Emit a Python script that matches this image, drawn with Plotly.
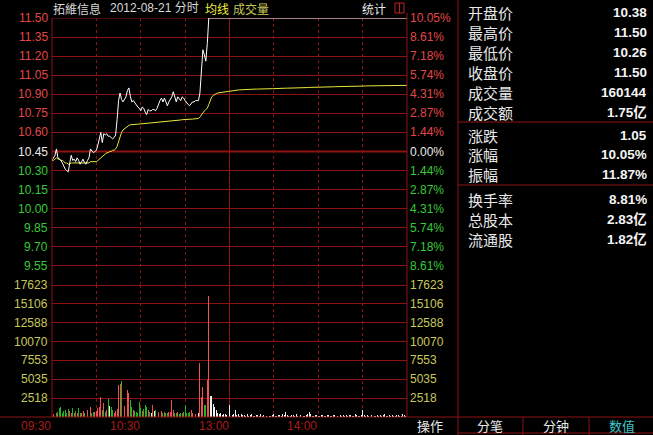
import plotly.graph_objects as go

# ---------------- data ----------------
stock_name = "拓維信息"
trade_date = "2012-08-21"
prev_close = 10.45

minutes = list(range(241))  # 0 = 09:30 ... 120 = 11:30/13:00 ... 240 = 15:00

price = [
    10.38, 10.40, 10.42, 10.47, 10.40, 10.39, 10.38, 10.36, 10.33, 10.31,
    10.30, 10.29, 10.36, 10.42, 10.38, 10.39, 10.37, 10.40, 10.38, 10.35,
    10.37, 10.39, 10.36, 10.35, 10.38, 10.40, 10.47, 10.45, 10.44, 10.45,
    10.46, 10.50, 10.56, 10.60, 10.52, 10.59, 10.58, 10.59, 10.57, 10.57,
    10.56, 10.55, 10.56, 10.58, 10.70, 10.85, 10.91, 10.86, 10.84, 10.86,
    10.88, 10.93, 10.95, 10.88, 10.84, 10.85, 10.83, 10.82, 10.80, 10.79,
    10.77, 10.80, 10.79, 10.76, 10.74, 10.78, 10.77, 10.77, 10.78, 10.78,
    10.77, 10.79, 10.83, 10.85, 10.87, 10.84, 10.87, 10.84, 10.81, 10.84,
    10.86, 10.88, 10.92, 10.88, 10.84, 10.88, 10.86, 10.85, 10.88, 10.87,
    10.85, 10.83, 10.82, 10.81, 10.83, 10.84, 10.84, 10.85, 10.85, 10.85,
    10.91, 11.09, 11.25, 11.21, 11.16, 11.30, 11.50, 11.50, 11.50, 11.50,
    11.50, 11.50, 11.50, 11.50, 11.50, 11.50, 11.50, 11.50, 11.50, 11.50,
    11.50, 11.50, 11.50, 11.50, 11.50, 11.50, 11.50, 11.50, 11.50, 11.50,
    11.50, 11.50, 11.50, 11.50, 11.50, 11.50, 11.50, 11.50, 11.50, 11.50,
    11.50, 11.50, 11.50, 11.50, 11.50, 11.50, 11.50, 11.50, 11.50, 11.50,
    11.50, 11.50, 11.50, 11.50, 11.50, 11.50, 11.50, 11.50, 11.50, 11.50,
    11.50, 11.50, 11.50, 11.50, 11.50, 11.50, 11.50, 11.50, 11.50, 11.50,
    11.50, 11.50, 11.50, 11.50, 11.50, 11.50, 11.50, 11.50, 11.50, 11.50,
    11.50, 11.50, 11.50, 11.50, 11.50, 11.50, 11.50, 11.50, 11.50, 11.50,
    11.50, 11.50, 11.50, 11.50, 11.50, 11.50, 11.50, 11.50, 11.50, 11.50,
    11.50, 11.50, 11.50, 11.50, 11.50, 11.50, 11.50, 11.50, 11.50, 11.50,
    11.50, 11.50, 11.50, 11.50, 11.50, 11.50, 11.50, 11.50, 11.50, 11.50,
    11.50, 11.50, 11.50, 11.50, 11.50, 11.50, 11.50, 11.50, 11.50, 11.50,
    11.50, 11.50, 11.50, 11.50, 11.50, 11.50, 11.50, 11.50, 11.50, 11.50,
    11.50,
]

avg_price = [
    10.38, 10.38, 10.39, 10.40, 10.39, 10.39, 10.38, 10.38, 10.37, 10.36,
    10.36, 10.35, 10.35, 10.36, 10.36, 10.36, 10.36, 10.36, 10.36, 10.36,
    10.36, 10.36, 10.36, 10.36, 10.36, 10.36, 10.37, 10.37, 10.37, 10.37,
    10.37, 10.38, 10.39, 10.40, 10.41, 10.42, 10.43, 10.44, 10.44, 10.45,
    10.45, 10.46, 10.46, 10.47, 10.49, 10.53, 10.57, 10.60, 10.62, 10.63,
    10.64, 10.65, 10.655, 10.66, 10.66, 10.66, 10.662, 10.664, 10.665, 10.666,
    10.667, 10.668, 10.668, 10.669, 10.670, 10.670, 10.671, 10.672, 10.673, 10.674,
    10.675, 10.676, 10.677, 10.678, 10.679, 10.680, 10.681, 10.682, 10.683, 10.685,
    10.686, 10.688, 10.690, 10.692, 10.694, 10.695, 10.697, 10.698, 10.700, 10.700,
    10.700, 10.701, 10.702, 10.703, 10.704, 10.705, 10.706, 10.707, 10.708, 10.710,
    10.72, 10.74, 10.76, 10.77, 10.78, 10.79, 10.82, 10.86, 10.88, 10.89,
    10.900, 10.905, 10.910, 10.912, 10.915, 10.918, 10.920, 10.922, 10.924, 10.925,
    10.927, 10.928, 10.930, 10.931, 10.932, 10.933, 10.934, 10.935, 10.936, 10.937,
    10.938, 10.938, 10.939, 10.939, 10.940, 10.940, 10.940, 10.941, 10.941, 10.941,
    10.942, 10.942, 10.942, 10.943, 10.943, 10.943, 10.943, 10.944, 10.944, 10.944,
    10.945, 10.945, 10.945, 10.946, 10.946, 10.947, 10.947, 10.947, 10.948, 10.948,
    10.948, 10.949, 10.949, 10.950, 10.950, 10.950, 10.951, 10.951, 10.951, 10.952,
    10.952, 10.952, 10.953, 10.953, 10.954, 10.954, 10.954, 10.955, 10.955, 10.955,
    10.956, 10.956, 10.956, 10.957, 10.957, 10.957, 10.958, 10.958, 10.958, 10.959,
    10.959, 10.959, 10.960, 10.960, 10.960, 10.961, 10.961, 10.961, 10.962, 10.962,
    10.962, 10.962, 10.963, 10.963, 10.963, 10.964, 10.964, 10.964, 10.964, 10.965,
    10.965, 10.965, 10.965, 10.966, 10.966, 10.966, 10.966, 10.967, 10.967, 10.967,
    10.967, 10.967, 10.968, 10.968, 10.968, 10.968, 10.968, 10.969, 10.969, 10.969,
    10.969, 10.969, 10.969, 10.970, 10.970, 10.970, 10.970, 10.970, 10.970, 10.970,
    10.970,
]

volume = [
    620, 400, 930, 600, 700, 1150, 1290, 500, 750, 930,
    600, 1070, 750, 600, 1150, 600, 800, 500, 1150, 600,
    480, 750, 500, 700, 1000, 600, 1300, 500, 700, 650,
    800, 1150, 1380, 2710, 900, 1830, 700, 1000, 2400, 1500,
    1380, 900, 600, 800, 1100, 4270, 4450, 4800, 2270, 1500,
    1000, 3600, 3160, 2270, 1380, 1000, 850, 700, 600, 2040,
    1200, 800, 1070, 1600, 1380, 900, 700, 600, 1600, 800,
    930, 1150, 700, 600, 800, 500, 700, 600, 500, 650,
    700, 2270, 900, 600, 500, 700, 450, 600, 500, 700,
    1600, 600, 500, 650, 870, 500, 400, 450, 300, 500,
    7250, 2700, 4050, 1600, 1600, 4950, 16150, 2800, 2800, 1800,
    1380, 870, 600, 400, 500, 300, 450, 350, 250, 400,
    1600, 500, 300, 400, 930, 300, 350, 200, 400, 250,
    300, 200, 400, 150, 250, 350, 200, 100, 300, 250,
    200, 350, 150, 250, 400, 200, 300, 150, 200, 250,
    350, 150, 200, 300, 250, 200, 400, 300, 670, 250,
    200, 150, 300, 250, 200, 350, 150, 200, 250, 300,
    200, 150, 250, 350, 670, 400, 200, 150, 250, 300,
    200, 150, 300, 250, 200, 150, 300, 250, 200, 150,
    250, 300, 200, 150, 350, 250, 200, 300, 150, 250,
    200, 300, 250, 150, 200, 350, 250, 200, 150, 300,
    930, 300, 200, 250, 150, 200, 300, 250, 150, 200,
    250, 200, 300, 150, 250, 350, 200, 150, 300, 200,
    250, 150, 200, 300, 250, 200, 150, 350, 250, 200,
    750,
]

price_ticks = [11.50, 11.35, 11.20, 11.05, 10.90, 10.75, 10.60,
               10.45, 10.30, 10.15, 10.00, 9.85, 9.70, 9.55]
price_tick_labels = ["11.50", "11.35", "11.20", "11.05", "10.90", "10.75", "10.60",
                     "10.45", "10.30", "10.15", "10.00", "9.85", "9.70", "9.55"]
pct_tick_labels = ["10.05%", "8.61%", "7.18%", "5.74%", "4.31%", "2.87%", "1.44%",
                   "0.00%", "1.44%", "2.87%", "4.31%", "5.74%", "7.18%", "8.61%"]
price_low, price_high = 9.40, 11.50

vol_ticks = [17623, 15106, 12588, 10070, 7553, 5035, 2518]
vol_tick_labels = ["17623", "15106", "12588", "10070", "7553", "5035", "2518"]
vol_max = 17623

time_ticks = [0, 60, 120, 180]
time_labels = ["09:30", "10:30", "13:00", "14:00"]
grid_time_ticks = [30, 60, 90, 150, 180, 210]
midday_tick = 120

info_labels = ["开盘价", "最高价", "最低价", "收盘价", "成交量", "成交额",
               "涨跌", "涨幅", "振幅", "换手率", "总股本", "流通股"]
info_values = ["10.38", "11.50", "10.26", "11.50", "160144", "1.75亿",
               "1.05", "10.05%", "11.87%", "8.81%", "2.83亿", "1.82亿"]
button_labels = ["操作", "分笔", "分钟", "数值"]

# ---------------- styling ----------------
W, H = 653, 435
L, R, T, B = 52, 407, 18, 417
SEP = 285  # px where price panel meets volume panel
BG = "#000000"
GRID = "#8e1212"
RED_TXT = "#e04848"
GREEN_TXT = "#38c838"
WHITE_TXT = "#e8e8e8"
VOL_TXT = "#c8c85a"
TIME_TXT = "#a81c1c"
NUM = "Liberation Sans, Arial, sans-serif"
CJK = "Noto Sans CJK SC, sans-serif"
MIX = "Liberation Sans, Noto Sans CJK SC, sans-serif"


def px_x(px):
    return (px - L) / (R - L)


def px_y(py):
    return 1 - (py - T) / (B - T)


vol_frac = (B - SEP) / (B - T)

# bar colours from price movement
bar_colors = []
for i, p in enumerate(price):
    ref = prev_close if i == 0 else price[i - 1]
    if p > ref:
        bar_colors.append("#f05050")
    elif p < ref:
        bar_colors.append("#22b422")
    else:
        bar_colors.append("#f0f0f0")

fig = go.Figure()
fig.add_trace(go.Bar(x=minutes, y=volume, marker=dict(color=bar_colors, line=dict(width=0)),
                     width=0.62, xaxis="x", yaxis="y", hoverinfo="skip"))
fig.add_trace(go.Scatter(x=minutes, y=avg_price, mode="lines",
                         line=dict(color="#e8e83c", width=1), xaxis="x", yaxis="y2", hoverinfo="skip"))
fig.add_trace(go.Scatter(x=minutes, y=price, mode="lines",
                         line=dict(color="#ffffff", width=1), xaxis="x", yaxis="y2", hoverinfo="skip"))

fig.update_layout(
    width=W, height=H,
    margin=dict(l=L, r=W - R, t=T, b=H - B, pad=0),
    paper_bgcolor=BG, plot_bgcolor=BG,
    showlegend=False, hovermode=False, bargap=0,
    xaxis=dict(range=[0, 240], anchor="y", tickvals=grid_time_ticks, showgrid=True,
               gridcolor=GRID, gridwidth=1, griddash="dot", showticklabels=False,
               zeroline=False, showline=False, ticks="", fixedrange=True),
    yaxis=dict(domain=[0, vol_frac], range=[0, vol_max], anchor="x", tickvals=vol_ticks,
               showgrid=True, gridcolor=GRID, gridwidth=1, showticklabels=False,
               zeroline=False, showline=False, ticks="", fixedrange=True),
    yaxis2=dict(domain=[vol_frac, 1], range=[price_low, price_high], anchor="x",
                tickvals=price_ticks, showgrid=True, gridcolor=GRID, gridwidth=1,
                showticklabels=False, zeroline=False, showline=False, ticks="", fixedrange=True),
)

shapes = []


def pline(x0, y0, x1, y1, width=1, color=GRID, layer="above", dash="solid"):
    shapes.append(dict(type="line", xref="paper", yref="paper",
                       x0=px_x(x0), y0=px_y(y0), x1=px_x(x1), y1=px_y(y1),
                       line=dict(color=color, width=width, dash=dash), layer=layer))


# axis-referenced frame lines
shapes.append(dict(type="line", xref="paper", yref="y2", x0=0, x1=1, y0=prev_close, y1=prev_close,
                   line=dict(color=GRID, width=2), layer="between"))
shapes.append(dict(type="line", xref="paper", yref="y2", x0=0, x1=1, y0=price_high, y1=price_high,
                   line=dict(color=GRID, width=1), layer="between"))
shapes.append(dict(type="line", xref="paper", yref="y", x0=0, x1=1, y0=vol_max, y1=vol_max,
                   line=dict(color=GRID, width=2), layer="between"))
shapes.append(dict(type="line", xref="x", yref="paper", x0=midday_tick, x1=midday_tick, y0=0, y1=1,
                   line=dict(color=GRID, width=1), layer="between"))
# borders
pline(L, T, L, B)
pline(R, 13, R, B)
pline(0, B, W, B)
# info panel
pline(458, 0, 458, H)
pline(458, 122, W, 122)
pline(458, 185, W, 185)
pline(523, B, 523, H)
pline(589, B, 589, H)
pline(458, 433, W, 433)
# small icon near 统计
shapes.append(dict(type="rect", xref="paper", yref="paper", x0=px_x(395), x1=px_x(404),
                   y0=px_y(13), y1=px_y(3), line=dict(color="#c02020", width=1), layer="above"))
pline(399.5, 3, 399.5, 13, color="#c02020")
fig.update_layout(shapes=shapes)


def ann(x, y, s, color, size, family, xanchor="left", xref="paper", yref="paper",
        weight="normal", height=None):
    fig.add_annotation(x=x, y=y, xref=xref, yref=yref, text=s, showarrow=False,
                       xanchor=xanchor, yanchor="middle", borderpad=0, height=height,
                       font=dict(color=color, size=size, family=family, weight=weight))


# price axis labels (left price, right percent)
for v, lab, pct in zip(price_ticks, price_tick_labels, pct_tick_labels):
    if v > prev_close:
        c = RED_TXT
    elif v < prev_close:
        c = GREEN_TXT
    else:
        c = WHITE_TXT
    ann(px_x(49), v, lab, c, 12, NUM, xanchor="right", yref="y2")
    ann(px_x(409), v, pct, c, 12, NUM, xanchor="left", yref="y2")

# volume axis labels
for v, lab in zip(vol_ticks, vol_tick_labels):
    ann(px_x(49), v, lab, VOL_TXT, 12, NUM, xanchor="right", yref="y")
    ann(px_x(409), v, lab, VOL_TXT, 12, NUM, xanchor="left", yref="y")

# time labels (right-aligned to their gridline)
for t, lab in zip(time_ticks, time_labels):
    ann(t, px_y(426), lab, TIME_TXT, 12, NUM, xanchor="right", xref="x")

# title
ann(px_x(52), px_y(8), stock_name, "#d8d8d8", 12, CJK)
ann(px_x(109), px_y(8), trade_date + " 分时", "#d8d8d8", 12, MIX)
ann(px_x(204), px_y(8), "均线", "#f0f040", 12, CJK)
ann(px_x(232), px_y(8), "成交量", "#c8c85a", 12, CJK)
ann(px_x(361), px_y(8), "统计", "#e8e8e8", 12, CJK)

# info panel
row_y = [12, 32, 52, 71.5, 91.5, 111.5, 134.5, 154.5, 174.5, 199, 218.5, 238.5]
for lab, val, yy in zip(info_labels, info_values, row_y):
    ann(px_x(467), px_y(yy), lab, "#e8e8e8", 15, CJK, height=18)
    ann(px_x(648), px_y(yy), val, "#f4f4f4", 13.5, MIX, xanchor="right", weight="bold", height=18)

# bottom buttons
button_x = [430, 490, 556, 622]
button_c = ["#e8e8e8", "#e8e8e8", "#e8e8e8", "#40c8c8"]
for lab, xx, cc in zip(button_labels, button_x, button_c):
    ann(px_x(xx), px_y(425), lab, cc, 13, CJK, xanchor="center")

fig.write_html("out.html",
               config={"displayModeBar": False, "staticPlot": True},
               post_script="document.body.style.margin='0';document.body.style.background='#000';"
                           "document.body.style.overflow='hidden';")
